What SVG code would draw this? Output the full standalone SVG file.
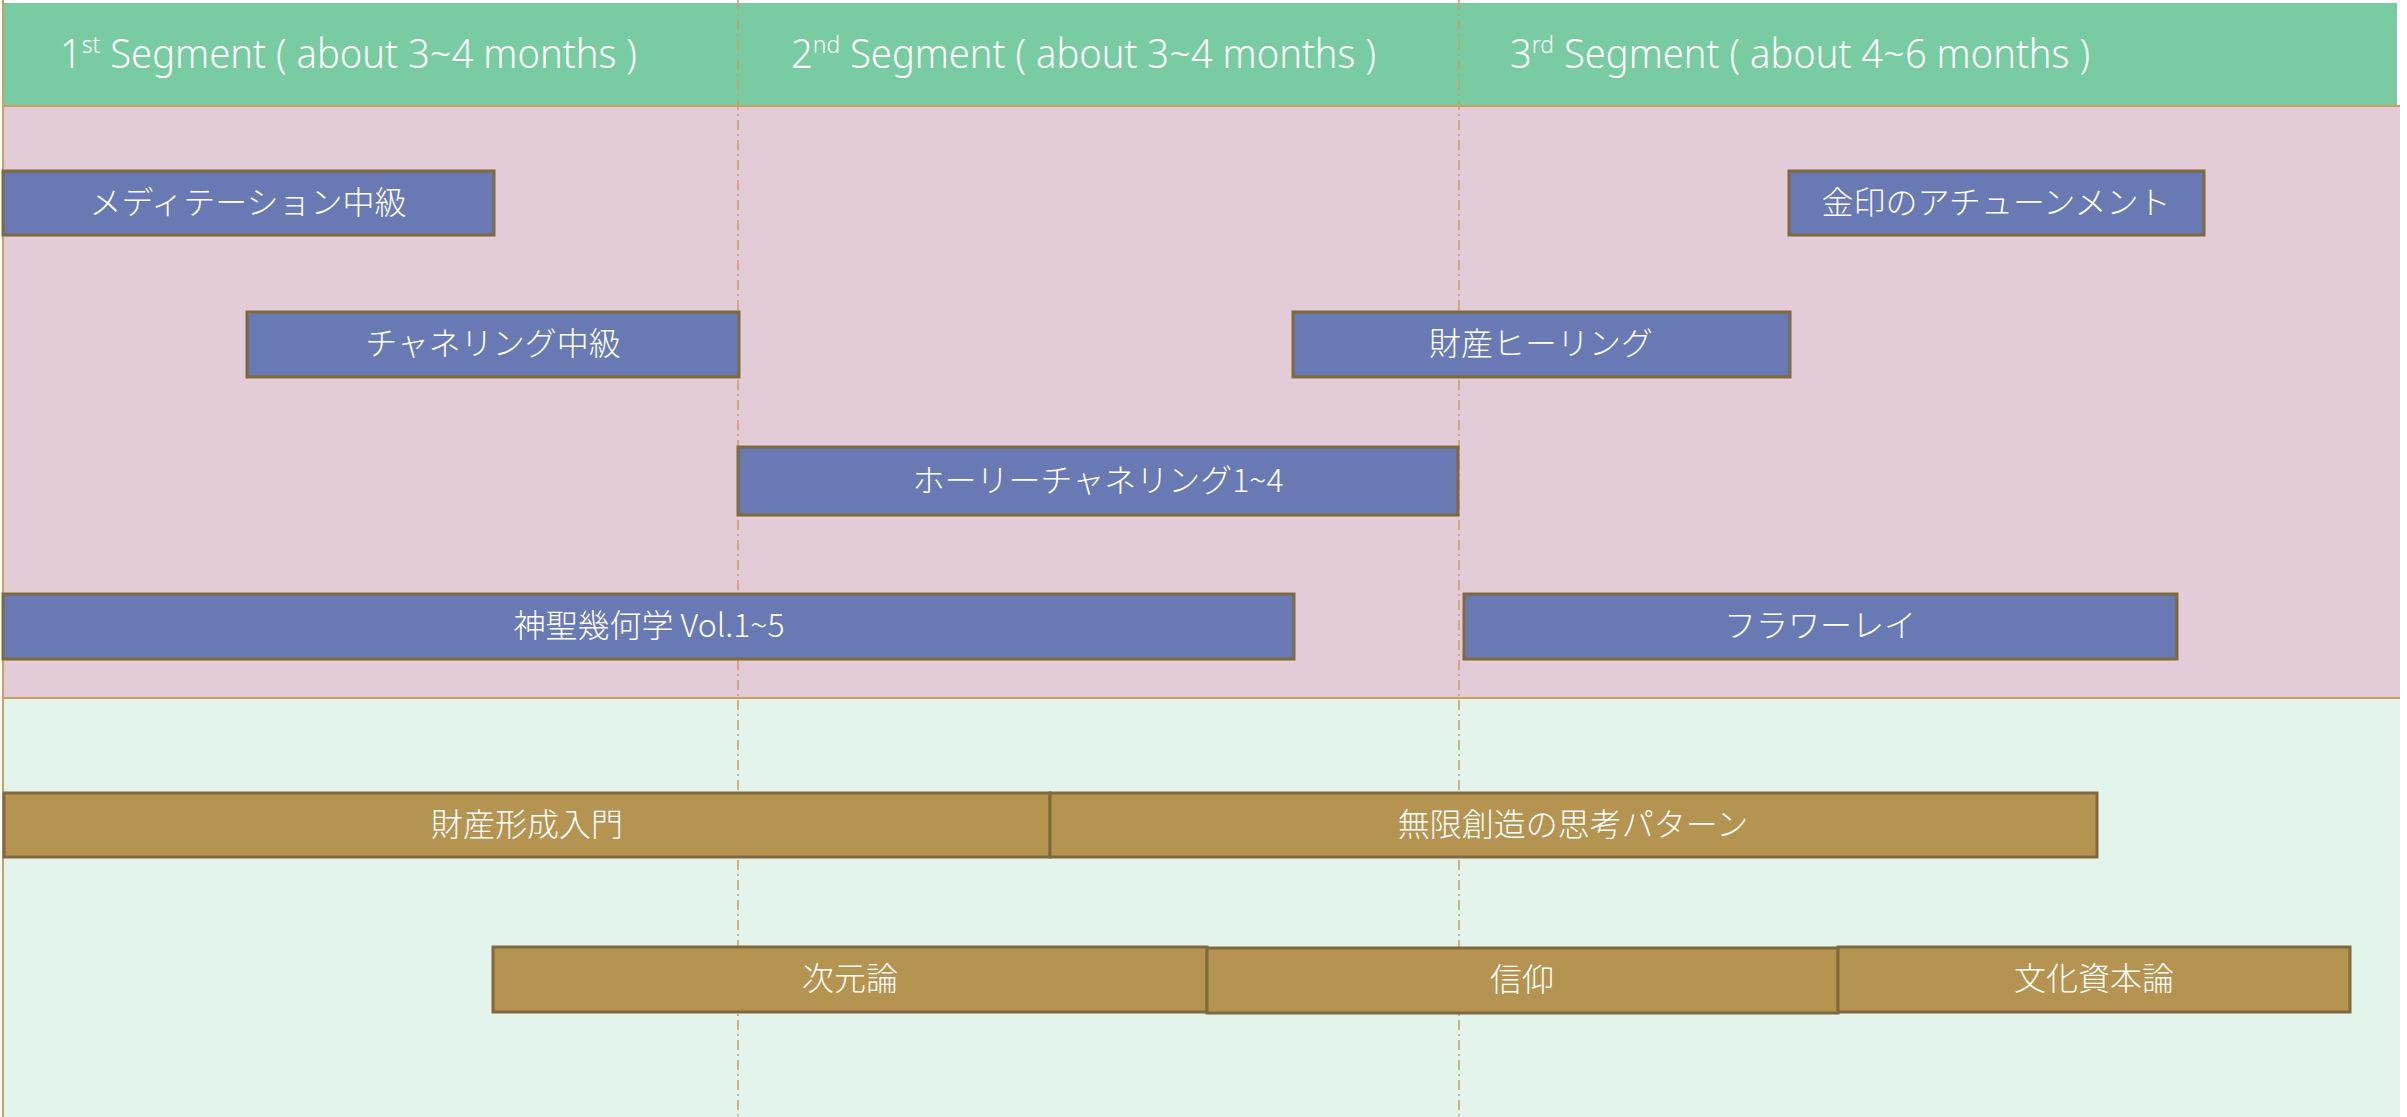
<svg xmlns="http://www.w3.org/2000/svg" width="2407" height="1117" viewBox="0 0 2407 1117">
<style>
.hdr{font-family:"Noto Sans","Noto Sans CJK JP",sans-serif;font-weight:300;font-size:40px;fill:#ffffff}
.sup{font-size:24px}
.lbl{font-family:"Noto Sans CJK JP","Noto Sans",sans-serif;font-weight:300;font-size:32px;fill:#ffffff;text-anchor:middle;dominant-baseline:central}
.blue{fill:#6879b4;stroke:#7f6a3c;stroke-width:3}
.gold{fill:#b59350;stroke:#806a3d;stroke-width:3}
.guide{stroke:#c8a060;stroke-width:1.5;stroke-dasharray:10 4 2 4;fill:none}
.edge{stroke:#c8a060;stroke-width:2;fill:none}
</style>
<rect x="0" y="0" width="2407" height="1117" fill="#ffffff"/>
<g id="background">
<rect x="3" y="3" width="2394" height="103" fill="#79cca2"/>
<rect x="3" y="106" width="2397" height="592" fill="#e3cbd8"/>
<rect x="3" y="698" width="2397" height="419" fill="#e3f4ec"/>
<line class="edge" x1="3" y1="106" x2="2400" y2="106"/>
<line class="edge" x1="3" y1="698" x2="2400" y2="698"/>
<line class="edge" x1="3" y1="0" x2="3" y2="1117"/>
</g>
<g id="headers">
<text class="hdr" x="60" y="68" textLength="577" lengthAdjust="spacingAndGlyphs">1<tspan class="sup" dy="-15">st</tspan><tspan dy="15"> Segment ( about 3~4 months )</tspan></text>
<text class="hdr" x="791" y="68" textLength="585" lengthAdjust="spacingAndGlyphs">2<tspan class="sup" dy="-15">nd</tspan><tspan dy="15"> Segment ( about 3~4 months )</tspan></text>
<text class="hdr" x="1510" y="68" textLength="580" lengthAdjust="spacingAndGlyphs">3<tspan class="sup" dy="-15">rd</tspan><tspan dy="15"> Segment ( about 4~6 months )</tspan></text>
</g>
<g id="connectors">
<line class="guide" x1="738" y1="0" x2="738" y2="1117"/>
<line class="guide" x1="1459" y1="0" x2="1459" y2="1117"/>
</g>
<g id="n1"><rect class="blue" x="3" y="171" width="491" height="64"/><text class="lbl" x="248" y="200">メディテーション中級</text></g>
<g id="n2"><rect class="blue" x="247" y="312" width="492" height="65"/><text class="lbl" x="493" y="341">チャネリング中級</text></g>
<g id="n3"><rect class="blue" x="738" y="447" width="720" height="68"/><text class="lbl" x="1098" y="478">ホーリーチャネリング1~4</text></g>
<g id="n4"><rect class="blue" x="3" y="594" width="1291" height="65"/><text class="lbl" x="649" y="623">神聖幾何学 Vol.1~5</text></g>
<g id="n5"><rect class="blue" x="1293" y="312" width="497" height="65"/><text class="lbl" x="1541" y="341">財産ヒーリング</text></g>
<g id="n6"><rect class="blue" x="1464" y="594" width="713" height="65"/><text class="lbl" x="1820" y="623">フラワーレイ</text></g>
<g id="n7"><rect class="blue" x="1789" y="171" width="415" height="64"/><text class="lbl" x="1996" y="200">金印のアチューンメント</text></g>
<g id="n8"><rect class="gold" x="4" y="793" width="1046" height="64"/><text class="lbl" x="527" y="822">財産形成入門</text></g>
<g id="n9"><rect class="gold" x="1050" y="793" width="1047" height="64"/><text class="lbl" x="1573" y="822">無限創造の思考パターン</text></g>
<g id="n10"><rect class="gold" x="493" y="947" width="714" height="65"/><text class="lbl" x="850" y="976">次元論</text></g>
<g id="n11"><rect class="gold" x="1207" y="948" width="631" height="65"/><text class="lbl" x="1522" y="977">信仰</text></g>
<g id="n12"><rect class="gold" x="1838" y="947" width="512" height="65"/><text class="lbl" x="2094" y="976">文化資本論</text></g>
</svg>
